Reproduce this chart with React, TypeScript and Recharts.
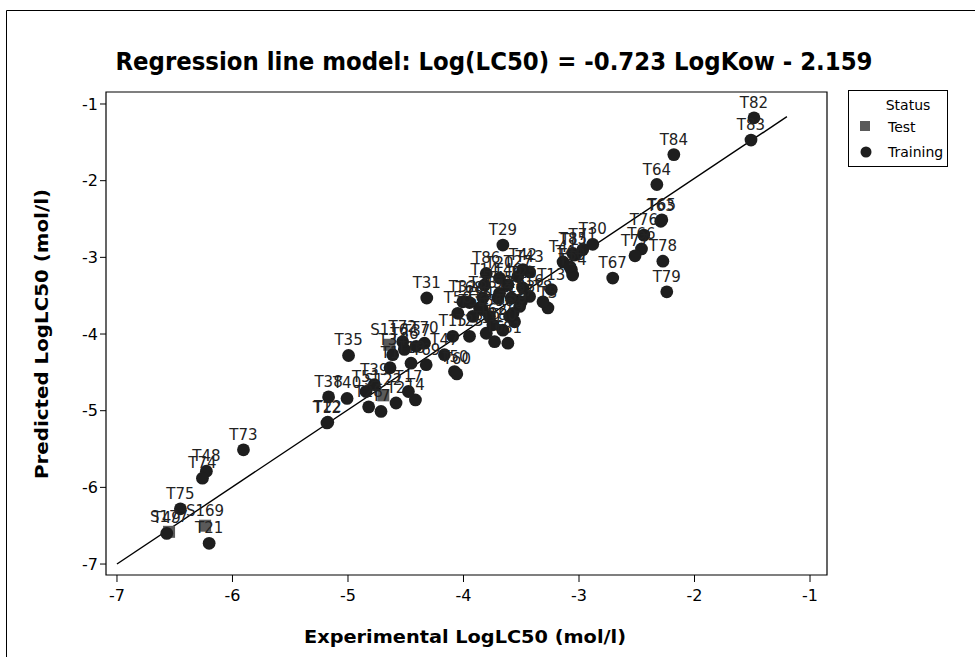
import { ScatterChart, Scatter, XAxis, YAxis, ReferenceLine, ReferenceArea } from 'recharts'

// training set (T*)
const trainNames = [
  'T1', 'T2', 'T3', 'T4', 'T5', 'T6', 'T7', 'T8', 'T9', 'T10',
  'T11', 'T12', 'T13', 'T14', 'T15', 'T16', 'T17', 'T18', 'T19', 'T20',
  'T21', 'T22', 'T23', 'T24', 'T25', 'T26', 'T27', 'T28', 'T29', 'T30',
  'T31', 'T32', 'T33', 'T34', 'T35', 'T36', 'T37', 'T38', 'T39', 'T40',
  'T41', 'T42', 'T43', 'T44', 'T45', 'T46', 'T47', 'T48', 'T49', 'T50',
  'T51', 'T52', 'T53', 'T54', 'T55', 'T56', 'T57', 'T58', 'T59', 'T60',
  'T61', 'T62', 'T63', 'T64', 'T65', 'T66', 'T67', 'T68', 'T69', 'T70',
  'T71', 'T72', 'T73', 'T74', 'T75', 'T76', 'T77', 'T78', 'T79', 'T80',
  'T81', 'T82', 'T83', 'T84', 'T85', 'T86',
]
const trainX = [
  -4.636, -4.584, -3.269, -4.416, -3.835, -3.731, -4.714, -3.312, -3.558, -3.066,
  -3.037, -5.182, -3.24, -3.818, -4.093, -3.428, -4.477, -4.454, -3.803, -3.688,
  -6.202, -5.175, -3.948, -3.055, -3.486, -3.586, -3.529, -4.821, -3.659, -2.881,
  -4.318, -4.006, -3.832, -4.613, -4.995, -4.512, -4.41, -5.168, -4.772, -5.008,
  -3.138, -3.486, -3.428, -3.081, -3.688, -3.616, -4.165, -6.226, -6.569, -4.078,
  -4.844, -3.702, -3.5, -3.861, -3.919, -3.775, -3.514, -4.049, -3.572, -4.058,
  -3.601, -3.746, -2.292, -2.326, -2.283, -2.459, -2.708, -3.948, -4.323, -4.338,
  -2.968, -4.526, -5.905, -6.26, -6.451, -2.439, -2.515, -2.274, -2.24, -3.659,
  -3.616, -1.485, -1.511, -2.179, -3.052, -3.803,
]
const trainY = [
  -4.44, -4.9, -3.66, -4.86, -3.68, -4.1, -5.01, -3.58, -3.84, -3.16,
  -2.97, -5.16, -3.42, -3.36, -4.03, -3.51, -4.75, -4.38, -3.99, -3.27,
  -6.73, -5.15, -4.03, -3.23, -3.4, -3.53, -3.25, -4.95, -2.84, -2.83,
  -3.53, -3.58, -3.53, -4.27, -4.28, -4.2, -4.16, -4.82, -4.66, -4.84,
  -3.06, -3.16, -3.19, -3.12, -3.47, -3.36, -4.27, -5.79, -6.6, -4.49,
  -4.75, -3.53, -3.58, -3.66, -3.77, -3.77, -3.64, -3.73, -3.73, -4.52,
  -3.77, -3.88, -2.53, -2.05, -2.51, -2.89, -3.27, -3.59, -4.4, -4.12,
  -2.9, -4.1, -5.51, -5.88, -6.28, -2.71, -2.98, -3.05, -3.45, -3.95,
  -4.12, -1.18, -1.47, -1.66, -2.95, -3.21,
]

// test set (S*)
const testNames = ['S116', 'S122', 'S169', 'S177']
const testX = [-4.642, -4.694, -6.237, -6.549]
const testY = [-4.14, -4.8, -6.5, -6.58]

// fitted line end points
const fitX = [-7, -1.2]
const fitY = [-7, -1.165]

const xTicks = [-7, -6, -5, -4, -3, -2, -1]
const yTicks = [-7, -6, -5, -4, -3, -2, -1]

const training = trainNames.map((name, i) => ({ name, x: trainX[i], y: trainY[i] }))
const test = testNames.map((name, i) => ({ name, x: testX[i], y: testY[i] }))
const labelled = [...test, ...training]

const FONT = '"DejaVu Sans", Verdana, sans-serif'
const X_DOMAIN: [number, number] = [-7.095, -0.853]
const Y_DOMAIN: [number, number] = [-7.143, -0.8435]

const Dot = (p: any) => <circle cx={p.cx} cy={p.cy} r={6.4} fill="#1e1e1e" />
const Square = (p: any) => <rect x={p.cx - 6} y={p.cy - 6} width={12} height={12} fill="#5a5a5a" />
const Name = (p: any) => (
  <text x={p.cx} y={p.cy - 10} textAnchor="middle" fontSize={15} fontFamily={FONT} fill="#222">
    {p.payload.name}
  </text>
)

export default function App() {
  return (
    <div style={{ position: 'absolute', left: 0, top: 0, width: 975, height: 657, background: '#fff', overflow: 'hidden' }}>
      <ScatterChart width={975} height={657} margin={{ top: 92, right: 148, bottom: 32, left: 46 }} style={{ position: 'absolute', left: 0, top: 0 }}>
        <XAxis
          type="number"
          dataKey="x"
          domain={X_DOMAIN}
          ticks={xTicks}
          allowDataOverflow
          height={50}
          axisLine={false}
          tickLine={{ stroke: '#000' }}
          tickSize={7}
          tickMargin={8}
          tick={{ fontSize: 16, fill: '#000', fontFamily: FONT }}
        />
        <YAxis
          type="number"
          dataKey="y"
          domain={Y_DOMAIN}
          ticks={yTicks}
          allowDataOverflow
          width={60}
          axisLine={false}
          tickLine={{ stroke: '#000' }}
          tickSize={6}
          tick={{ fontSize: 16, fill: '#000', fontFamily: FONT }}
        />
        <ReferenceArea x1={X_DOMAIN[0]} x2={X_DOMAIN[1]} y1={Y_DOMAIN[0]} y2={Y_DOMAIN[1]} fill="none" stroke="#000" strokeWidth={1.2} />
        <ReferenceLine
          segment={[
            { x: fitX[0], y: fitY[0] },
            { x: fitX[1], y: fitY[1] },
          ]}
          stroke="#000"
          strokeWidth={1.4}
        />
        <Scatter data={test} shape={Square} isAnimationActive={false} />
        <Scatter data={training} shape={Dot} isAnimationActive={false} />
        <Scatter data={labelled} shape={Name} isAnimationActive={false} />
      </ScatterChart>
      <svg width={975} height={657} style={{ position: 'absolute', left: 0, top: 0, pointerEvents: 'none' }}>
        <line x1={6.5} y1={10.5} x2={975} y2={10.5} stroke="#000" strokeWidth={1} />
        <line x1={6.5} y1={10.5} x2={6.5} y2={657} stroke="#000" strokeWidth={1} />
        <text x={494} y={70} textAnchor="middle" fontSize={24} fontWeight="bold" fontFamily={FONT} textLength={757} lengthAdjust="spacingAndGlyphs">
          Regression line model: Log(LC50) = -0.723 LogKow - 2.159
        </text>
        <text x={465} y={643} textAnchor="middle" fontSize={18} fontWeight="bold" fontFamily={FONT} textLength={322} lengthAdjust="spacingAndGlyphs">
          Experimental LogLC50 (mol/l)
        </text>
        <text
          transform="translate(48,334) rotate(-90)"
          textAnchor="middle"
          fontSize={18}
          fontWeight="bold"
          fontFamily={FONT}
          textLength={290}
          lengthAdjust="spacingAndGlyphs"
        >
          Predicted LogLC50 (mol/l)
        </text>
        <rect x={848.5} y={90.5} width={99} height={76} fill="#fff" stroke="#000" strokeWidth={1} />
        <text x={908} y={110} textAnchor="middle" fontSize={14} fontFamily={FONT}>Status</text>
        <rect x={860} y={121} width={10} height={10} fill="#5a5a5a" />
        <text x={888} y={132} fontSize={14} fontFamily={FONT}>Test</text>
        <circle cx={866} cy={152} r={5.5} fill="#1e1e1e" />
        <text x={888} y={157} fontSize={14} fontFamily={FONT}>Training</text>
      </svg>
    </div>
  )
}
